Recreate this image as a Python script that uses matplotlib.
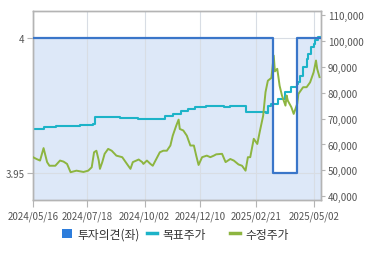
import matplotlib
matplotlib.use("Agg")
import matplotlib.pyplot as plt
from matplotlib.lines import Line2D
from matplotlib.patches import Patch
from matplotlib.ticker import FuncFormatter

plt.rcParams['font.family'] = ['Noto Sans CJK KR', 'DejaVu Sans']

# x = 거래일 인덱스 (0 = 2024/05/16)
tick_idx = [0, 46, 95, 142, 190, 239]
tick_labels = ["2024/05/16", "2024/07/18", "2024/10/02", "2024/12/10", "2025/02/21", "2025/05/02"]

# 투자의견 (좌축)
opinion_idx = [0, 204, 225, 245]
opinion_val = [4.0, 3.95, 4.0, 4.0]

# 목표주가 (우축, 계단형)
target_idx = [0, 9, 20, 40, 51, 53, 74, 89, 112, 119, 126, 132, 138, 147, 163, 168, 181,
              198, 200, 203, 209, 215, 220, 225, 226, 227, 230, 233, 234, 237, 239, 240, 243, 245]
target_val = [66000, 66800, 67200, 67500, 67900, 70500, 70200, 69900, 71100, 71800, 73100,
              73700, 74300, 74700, 74300, 75000, 72600, 72300, 75000, 75700, 77600, 80200,
              82100, 83400, 84000, 86600, 89800, 93000, 95000, 97500, 98800, 100500, 101400, 101400]

# 수정주가 (우축)
price_idx = [0, 3, 6, 9, 12, 14, 19, 23, 26, 29, 32, 37, 43, 47, 50, 52, 54, 56, 57, 59,
             61, 64, 67, 71, 76, 80, 83, 85, 90, 93, 94, 97, 100, 102, 105, 108, 111, 114,
             117, 119, 122, 124, 125, 128, 131, 134, 137, 139, 141, 144, 148, 151, 154, 156,
             161, 164, 168, 171, 175, 178, 181, 183, 185, 188, 191, 193, 196, 198, 200, 203,
             205, 206, 208, 209, 210, 212, 213, 215, 216, 217, 220, 222, 223, 225, 226, 228,
             230, 233, 236, 239, 241, 242, 244]
price_val = [55100, 54400, 53800, 58600, 53200, 51800, 51800, 53800, 53400, 52500, 49300,
             49900, 49400, 49900, 51200, 57000, 57600, 53800, 50600, 53200, 56400, 58300,
             57600, 55700, 55100, 52500, 50600, 53200, 54200, 53200, 52500, 53800, 52500,
             51800, 54400, 57000, 57600, 57600, 59600, 63400, 67300, 69600, 66000, 65400,
             63400, 59600, 59600, 55700, 52100, 55100, 55700, 55100, 55700, 56200, 56400,
             53200, 54400, 53800, 52300, 51800, 49900, 55100, 55100, 62200, 60200, 64700,
             71100, 80200, 84600, 85700, 94300, 88200, 89200, 86000, 82700, 78900, 77600,
             75000, 78900, 76900, 74400, 71800, 73100, 75700, 79500, 80800, 82100, 82100,
             84000, 87900, 92400, 89200, 86000]

c_blue = '#3a76c9'
c_fill = '#dde8f8'
c_cyan = '#1db3c8'
c_green = '#8db540'
c_text = '#555555'
c_spine = '#b4b4b4'

fig = plt.figure(figsize=(3.7, 2.55), dpi=100)
ax = fig.add_axes([33 / 370, 1 - 200.7 / 255, 287.7 / 370, 188.7 / 255])
ax2 = ax.twinx()

ax.set_xlim(0, 245)
ax.set_ylim(3.94, 4.01)
ax2.set_ylim(38700, 111500)

ax.fill_between(opinion_idx, opinion_val, 3.94, step='post', color=c_fill, lw=0, zorder=0)
ax.grid(True, color='#d8dde4', lw=0.8, zorder=0.5)
ax.set_axisbelow(True)

ax2.plot(target_idx, target_val, drawstyle='steps-post', color=c_cyan, lw=1.5, zorder=2)
ax2.plot(price_idx, price_val, color=c_green, lw=1.4, zorder=3)

# 투자의견 선은 맨 위에
ax3 = ax.twinx()
ax3.set_ylim(3.94, 4.01)
ax3.plot(opinion_idx, opinion_val, drawstyle='steps-post', color=c_blue, lw=1.6)
ax3.set_yticks([])
for s in ax3.spines.values():
    s.set_visible(False)

ax.set_yticks([3.95, 4.0])
ax.set_yticklabels(["3.95", "4"])
ax.set_xticks(tick_idx)
ax.set_xticklabels(tick_labels)
ax2.set_yticks(range(40000, 110001, 10000))
ax2.yaxis.set_major_formatter(FuncFormatter(lambda v, p: f"{int(v):,}"))

ax.tick_params(axis='x', length=5, pad=3, labelsize=7, colors=c_spine, labelcolor=c_text)
ax.tick_params(axis='y', length=4, pad=2, labelsize=7, colors=c_spine, labelcolor=c_text)
ax2.tick_params(axis='y', length=3, pad=2, labelsize=7, colors=c_spine, labelcolor=c_text)
for a in (ax, ax2):
    for s in a.spines.values():
        s.set_color(c_spine)
        s.set_linewidth(1)

# 범례
items = [
    (Patch(facecolor='#2d7ddc', edgecolor='none'), "투자의견(좌)", 0.1668),
    (Line2D([], [], color=c_cyan, lw=2.5), "목표주가", 0.3965),
    (Line2D([], [], color=c_green, lw=2.5), "수정주가", 0.6216),
]
for h, lab, x in items:
    fig.legend([h], [lab], loc='center left', bbox_to_anchor=(x, 0.078), frameon=False,
               fontsize=8.5, handlelength=0.85, handleheight=0.85, handletextpad=0.45,
               borderpad=0, borderaxespad=0, labelcolor='#333333')

fig.savefig("out.png", dpi=100)
